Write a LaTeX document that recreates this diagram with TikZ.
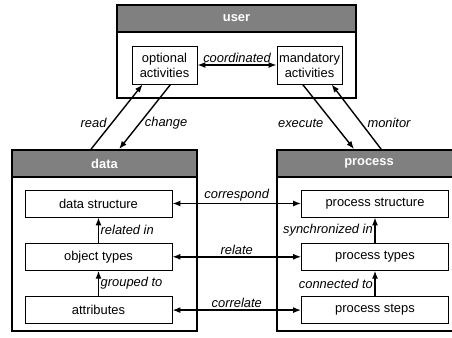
\documentclass[tikz,border=0pt]{standalone}
\usepackage{fontspec}
\setmainfont{Liberation Sans}
\usetikzlibrary{arrows.meta,calc,positioning}
\definecolor{headgray}{RGB}{128,128,128}
\newcommand{\diafont}{\fontsize{12.9}{15}\selectfont}
\tikzset{
	panel/.style={draw, line width=1.8pt, inner sep=0pt},
	head/.style={draw, line width=1.8pt, fill=headgray, text=white,
		font=\diafont\bfseries, minimum height=27, inner sep=0pt, anchor=north},
	item/.style={draw, line width=0.8pt, fill=white,
		minimum width=147, minimum height=27, inner sep=0pt},
	act/.style={item, minimum width=65, minimum height=38, align=center},
	rel/.style={line width=1.4pt, -{Latex[length=8pt,width=6pt]}},
	both/.style={line width=1.4pt, {Latex[length=8pt,width=6pt]}-{Latex[length=8pt,width=6pt]}},
	lbl/.style={font=\diafont\itshape, inner sep=1.5pt}
}

\begin{document}
\begin{tikzpicture}[x=1pt, y=-1pt, font=\diafont]
   \useasboundingbox (0,0) rectangle (452,337);
   % the three panels with their title bars
   \node[panel, minimum width=239, minimum height=93] (user) at (236.5,51.5) {};
   \node[head, minimum width=239] (userhead) at (user.north) {user};
   \node[panel, minimum width=185, minimum height=181] (data) at (104.5,240.5) {};
   \node[head, minimum width=185] (datahead) at (data.north) {data};
   \node[panel, minimum width=184, minimum height=181] (process) at (369,240.5) {};
   \node[head, minimum width=184] (processhead) at (process.north) {process};
   % boxes inside
   \node[act] (opt)  at (164.5,65) {optional\\activities};
   \node[act] (mand) at (309.5,65) {mandatory\\activities};
   \node[item] (ds) at (98.5,203.5) {data structure};
   \node[item, below=25.5pt of ds] (ot)   {object types};
   \node[item, below=25.5pt of ot] (attr) {attributes};
   \node[item] (ps) at (375,203.5) {process structure};
   \node[item, below=25.5pt of ps] (pt)   {process types};
   \node[item, below=25.5pt of pt] (pst)  {process steps};
   % user <-> data, process
   \draw[both] (opt) -- node[lbl, above] (coordl) {coordinated} (mand);
   \draw[rel] ($(data.north west)+(80,0)$) -- node[lbl, pos=.4, left=3pt] (readl) {read}
      ($(opt.south west)+(11,0)$);
   \draw[rel] ($(opt.south west)+(39,0)$) -- node[lbl, pos=.6, right=3pt] (changel) {change}
      ($(data.north west)+(108,0)$);
   \draw[rel] ($(mand.south west)+(26,0)$) -- node[lbl, pos=.6, left=8pt] (execl) {execute}
      ($(process.north west)+(78,0)$);
   \draw[rel] ($(process.north west)+(105,0)$) -- node[lbl, pos=.4, right=4pt] (monl) {monitor}
      ($(mand.south west)+(55,0)$);
   % inside data
   \draw[rel] (ot) -- node[lbl, right] (relin) {related in} (ds);
   \draw[rel] (attr) -- node[lbl, right] (grp) {grouped to} (ot);
   % inside process
   \draw[rel] (pt) -- node[lbl, left] (sync) {synchronized in} (ps);
   \draw[rel] (pst) -- node[lbl, left] (conn) {connected to} (pt);
   % data <-> process
   \draw[both] (ds) -- node[lbl, above] (corrl) {correspond} (ps);
   \draw[both] (ot) -- node[lbl, above] (rell) {relate} (pt);
   \draw[both] (attr) -- node[lbl, above] (corrlt) {correlate} (pst);
\end{tikzpicture}
\end{document}
